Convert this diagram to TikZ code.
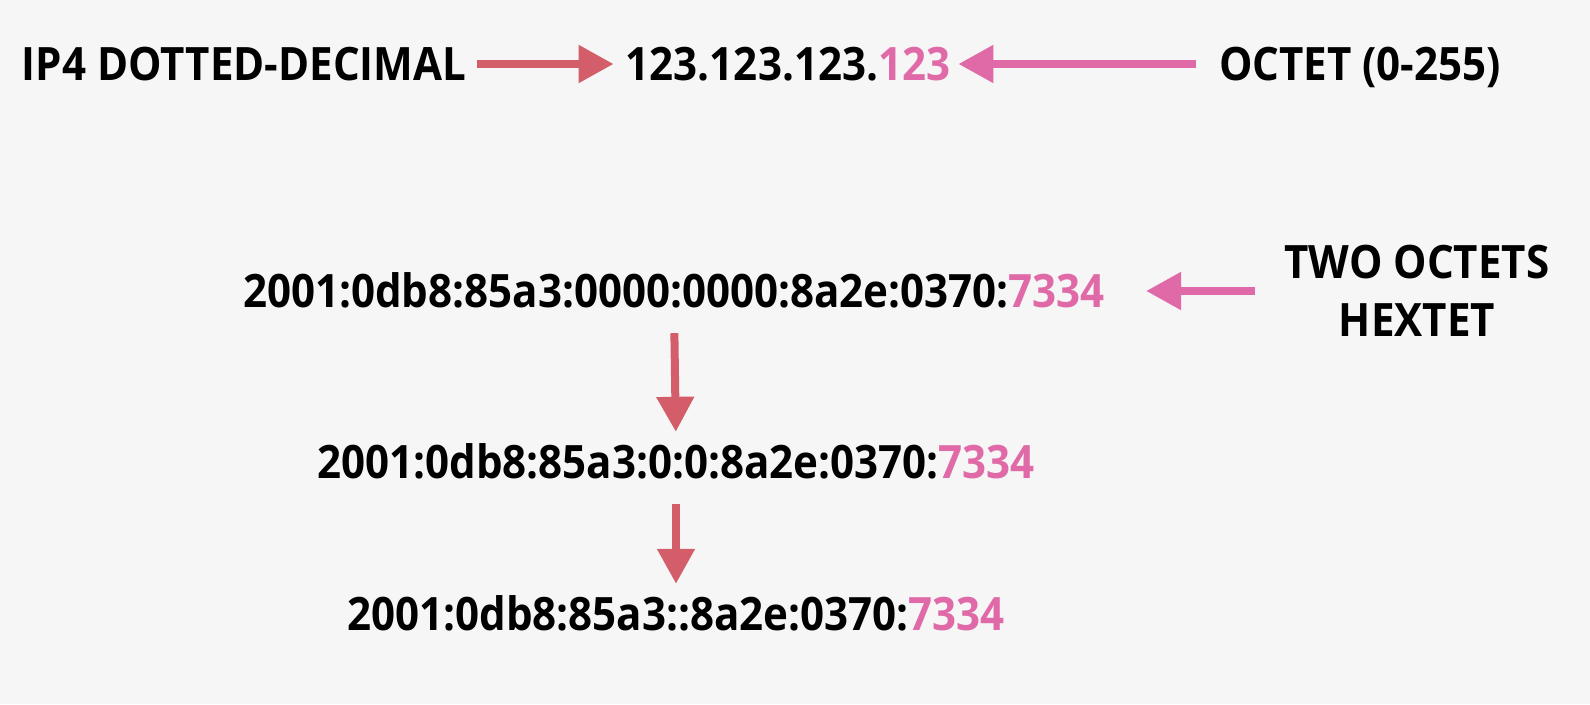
\documentclass[tikz,border=0pt]{standalone}
\usepackage{fontspec}
\setmainfont{Open Sans}[FakeStretch=0.915]
\usepackage{tikz}
\usetikzlibrary{arrows.meta}
\definecolor{bgc}{HTML}{F6F6F6}
\definecolor{redc}{HTML}{D45D6A}
\definecolor{pinkc}{HTML}{E06AA8}
\tikzset{>={Triangle[length=35pt,width=36pt]}}
\tikzset{
  addr/.style={inner sep=0pt, font=\fontsize{46}{58}\selectfont\bfseries, text height=32pt, text depth=0pt},
  redarrow/.style={->, draw=redc, fill=redc, line width=8pt},
  pinkarrow/.style={->, draw=pinkc, fill=pinkc, line width=8pt}
}

\begin{document}
\begin{tikzpicture}[x=1pt, y=-1pt]

  \fill[bgc] (0,0) rectangle (1590,704);
  \useasboundingbox (0,0) rectangle (1590,704);

  \newcommand\hi[1]{\textcolor{pinkc}{#1}}

  %% top row
  \node[addr] (ip4) at (244,64) {IP4 DOTTED-DECIMAL};
  \node[addr] (v4) at (788,64) {123.123.123.\hi{123}};
  \node[addr] (octet) at (1360,64) {OCTET (0-255)};

  \draw[redarrow, shorten <=11pt, shorten >=12pt] (ip4) -- (v4); % ip4 -> v4
  \draw[pinkarrow, shorten <=23pt, shorten >=8pt] (octet) -- (v4); % octet -> v4

  %% ipv6
  \node[addr] (v6a) at (674,291) {2001:0db8:85a3:0000:0000:8a2e:0370:\hi{7334}};
  \node[addr, align=center, text height=, text depth=] (hextet) at (1417,291) {TWO OCTETS\\HEXTET};
  \node[addr] (v6b) at (676,462) {2001:0db8:85a3:0:0:8a2e:0370:\hi{7334}};
  \node[addr] (v6c) at (676,614) {2001:0db8:85a3::8a2e:0370:\hi{7334}};

  \draw[pinkarrow, shorten <=29pt, shorten >=41pt] (hextet) -- (v6a); % hextet -> v6a

  \draw[redarrow, shorten <=26pt, shorten >=14pt] (v6a.south) -- (v6b.north); % compress zeros
  \draw[redarrow, shorten <=26pt, shorten >=14pt] (v6b.south) -- (v6c.north); % drop zeros

\end{tikzpicture}
\end{document}
